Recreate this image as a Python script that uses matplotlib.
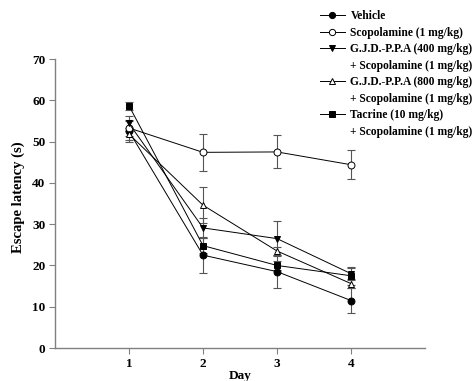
import matplotlib
matplotlib.use("Agg")
import matplotlib.pyplot as plt
from matplotlib.lines import Line2D

# ── Datos ─────────────────────────────────────────────────────────────────────
days = [1, 2, 3, 4]

vehicle      = [52.5, 22.5, 18.5, 11.5]
vehicle_se   = [2.5, 4.4, 4.0, 3.0]
scop         = [53.3, 47.4, 47.5, 44.4]
scop_se      = [2.0, 4.4, 4.0, 3.5]
gjd400       = [54.4, 29.1, 26.5, 18.0]
gjd400_se    = [1.8, 2.5, 4.3, 1.5]
gjd800       = [51.8, 34.6, 23.5, 15.6]
gjd800_se    = [1.5, 4.3, 1.0, 1.0]
tacrine      = [58.7, 24.8, 20.0, 17.5]
tacrine_se   = [1.0, 1.8, 1.0, 2.2]

labels = [
    "Vehicle",
    "Scopolamine (1 mg/kg)",
    "G.J.D.-P.P.A (400 mg/kg)",
    "G.J.D.-P.P.A (800 mg/kg)",
    "Tacrine (10 mg/kg)",
]
second_line = "+ Scopolamine (1 mg/kg)"

yticks = [0, 10, 20, 30, 40, 50, 60, 70]

# ── Estilo ────────────────────────────────────────────────────────────────────
plt.rcParams["font.family"] = ["Liberation Serif", "DejaVu Serif"]
plt.rcParams["font.weight"] = "bold"

AXCOL = "#808080"
series = [
    (vehicle, vehicle_se, "o", "black"),
    (scop, scop_se, "o", "white"),
    (gjd400, gjd400_se, "v", "black"),
    (gjd800, gjd800_se, "^", "white"),
    (tacrine, tacrine_se, "s", "black"),
]

fig = plt.figure(figsize=(4.76, 3.81), dpi=100)
ax = fig.add_axes([0.1155, 0.0866, 0.7775, 0.7584])

handles = []
for (vals, se, mk, fc), lab in zip(series, labels):
    ax.errorbar(days, vals, yerr=se, fmt="none", ecolor="#555555",
                elinewidth=0.8, capsize=2.6, capthick=0.8, zorder=2)
    ax.plot(days, vals, color="black", linewidth=0.7, marker=mk,
            markersize=5, markerfacecolor=fc, markeredgecolor="black",
            markeredgewidth=0.7, zorder=3)
    handles.append(Line2D([], [], color="black", linewidth=0.7, marker=mk,
                          markersize=4.5, markerfacecolor=fc,
                          markeredgecolor="black", markeredgewidth=0.7))

ax.set_xlim(0, 5)
ax.set_ylim(0, 70)
ax.set_xticks(days)
ax.set_yticks(yticks)
ax.tick_params(axis="both", labelsize=9.5, length=4, width=0.8,
               color=AXCOL, pad=3)
for lab in ax.get_xticklabels() + ax.get_yticklabels():
    lab.set_fontweight("bold")

for side in ["top", "right"]:
    ax.spines[side].set_visible(False)
for side in ["left", "bottom"]:
    ax.spines[side].set_color(AXCOL)
    ax.spines[side].set_linewidth(1.0)

ax.set_ylabel("Escape latency (s)", fontsize=10.5, fontweight="bold")
ax.yaxis.set_label_coords(-0.08, 0.522)
ax.set_xlabel("Day", fontsize=9.5, fontweight="bold", labelpad=0)

# Leyenda: filas vacías para la segunda línea de cada combinación
blank = Line2D([], [], linestyle="none")
leg_handles = [handles[0], handles[1], handles[2], blank,
               handles[3], blank, handles[4], blank]
leg_labels = [labels[0], labels[1], labels[2], second_line,
              labels[3], second_line, labels[4], second_line]
leg = fig.legend(leg_handles, leg_labels, loc="upper left",
                 bbox_to_anchor=(0.672, 0.973), frameon=False,
                 fontsize=8.3, handlelength=2.15, handletextpad=0.5,
                 labelspacing=0.39, borderpad=0, borderaxespad=0)
for t in leg.get_texts():
    t.set_fontweight("bold")

fig.savefig("out.png", dpi=100)
